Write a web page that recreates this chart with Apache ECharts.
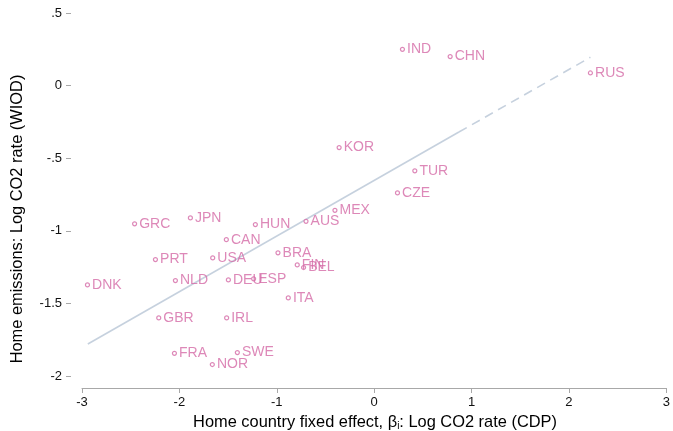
<!DOCTYPE html>
<html><head><meta charset="utf-8">
<script src="https://cdn.jsdelivr.net/npm/echarts@6/dist/echarts.min.js"></script>
<style>html,body{margin:0;padding:0;background:#fff}#c{width:673px;height:431px}</style>
</head><body><div id="c"></div>
<script>
const countries = ["IND","CHN","RUS","KOR","TUR","CZE","MEX","AUS","HUN","GRC","JPN","CAN","BRA","PRT","USA","FIN","BEL","DNK","NLD","DEU","ESP","ITA","GBR","IRL","FRA","SWE","NOR"];
const xVals = [0.29,0.78,2.22,-0.36,0.417,0.239,-0.403,-0.70,-1.22,-2.46,-1.887,-1.518,-0.988,-2.246,-1.658,-0.79,-0.725,-2.944,-2.041,-1.497,-1.238,-0.882,-2.212,-1.515,-2.051,-1.405,-1.662];
const yVals = [0.25,0.20,0.087,-0.427,-0.587,-0.739,-0.859,-0.935,-0.957,-0.952,-0.911,-1.061,-1.152,-1.198,-1.187,-1.235,-1.253,-1.373,-1.343,-1.338,-1.331,-1.462,-1.600,-1.600,-1.844,-1.839,-1.921];
const fitSolidX = [-2.94, 0.87];
const fitSolidY = [-1.78, -0.32];
const fitDashX = [0.87, 2.22];
const fitDashY = [-0.32, 0.195];
const xTicks = [-3,-2,-1,0,1,2,3];
const yTicks = [0.5,0,-0.5,-1,-1.5,-2];

const FF = 'Liberation Sans';
const pink = '#d46aa6';
const lineCol = '#c6d1de';
const chart = echarts.init(document.getElementById('c'), null, {renderer:'canvas'});
const fmtY = v => { let s = String(v); return s.replace(/^0\./,'.').replace(/^-0\./,'-.'); };
chart.setOption({
  animation:false,
  backgroundColor:'#fff',
  textStyle:{fontFamily:FF},
  grid:{left:82,right:6,top:13,bottom:55},
  xAxis:{type:'value',min:-3,max:3,interval:1,offset:12,
    axisLine:{show:true,onZero:false,lineStyle:{color:'#a8a8a8',width:1}},
    axisTick:{show:true,length:5,lineStyle:{color:'#a8a8a8'}},
    axisLabel:{color:'#111',fontSize:13,fontFamily:FF,margin:8,
      formatter:v=> xTicks.includes(v)? String(v):''},
    splitLine:{show:false}},
  yAxis:{type:'value',min:-2,max:0.5,interval:0.5,offset:11,
    axisLine:{show:false,onZero:false},
    axisTick:{show:true,length:5,lineStyle:{color:'#a8a8a8'}},
    axisLabel:{color:'#111',fontSize:13,fontFamily:FF,margin:9,
      formatter:v=> yTicks.includes(v)? fmtY(v):''},
    splitLine:{show:false}},
  series:[
    {type:'line',data:fitSolidX.map((x,i)=>[x,fitSolidY[i]]),symbol:'none',
      lineStyle:{color:lineCol,width:1.6},z:1,silent:true},
    {type:'line',data:fitDashX.map((x,i)=>[x,fitDashY[i]]),symbol:'none',
      lineStyle:{color:lineCol,width:1.6,type:[9,6]},z:1,silent:true},
    {type:'scatter',data:countries.map((c,i)=>({name:c,value:[xVals[i],yVals[i]]})),
      symbol:'circle',symbolSize:4,
      itemStyle:{color:'#fff',borderColor:pink,borderWidth:1.2},
      label:{show:true,position:'right',distance:2,formatter:p=>p.name,
        color:pink,fontSize:14,fontFamily:FF},z:3}
  ],
  graphic:[
    {type:'text',x:375,y:413,
      style:{text:'Home country fixed effect, β{s|i}: Log CO2 rate (CDP)',fill:'#000',fontSize:16.4,fontFamily:FF,align:'center',verticalAlign:'top',
      rich:{s:{fontSize:10,fill:'#000',verticalAlign:'bottom',padding:[8,0,0,0],fontFamily:FF}}}},
    {type:'text',x:9,y:219,rotation:Math.PI/2,
      style:{text:'Home emissions: Log CO2 rate (WIOD)',fill:'#000',fontSize:16.4,fontFamily:FF,
      align:'center',verticalAlign:'top'}}
  ]
});
</script></body></html>
